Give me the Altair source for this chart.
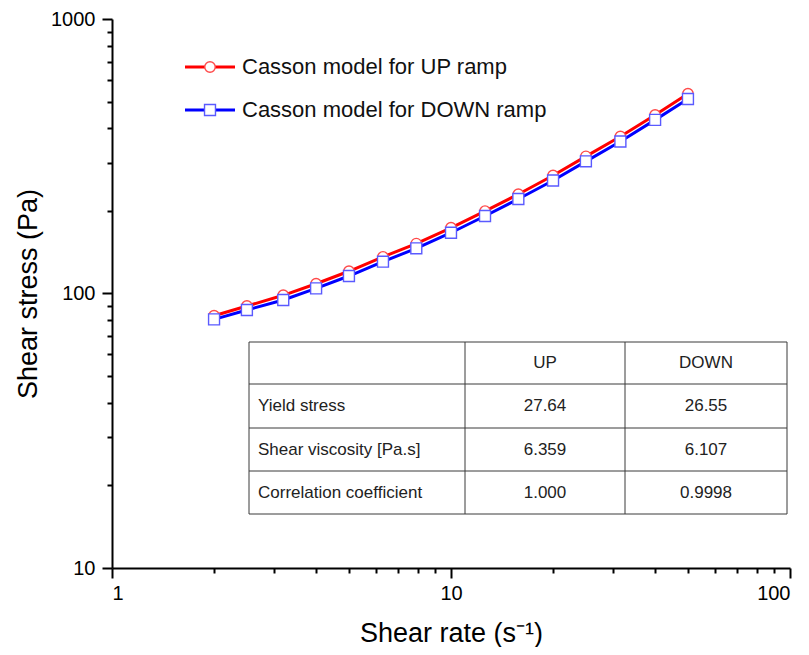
import altair as alt
import pandas as pd

# ---------------- data ----------------
shear_rate = [2, 2.5, 3.2, 4, 5, 6.3, 7.9, 10, 12.6, 15.8, 20, 25, 31.6, 40, 50]
up_stress = [83, 90, 98.5, 108.5, 120.5, 136, 152, 173.5, 199.5, 230, 269, 316, 373, 447, 534]
down_stress = [80.5, 87.1, 94.7, 104.4, 115.8, 130.6, 146.1, 166.5, 191.6, 221, 258, 303, 358, 429, 511]
series_names = ["Casson model for UP ramp", "Casson model for DOWN ramp"]

table_cols = ["UP", "DOWN"]
table_rows = ["Yield stress", "Shear viscosity [Pa.s]", "Correlation coefficient"]
table_up = ["27.64", "6.359", "1.000"]
table_down = ["26.55", "6.107", "0.9998"]

major_x = [1, 10, 100]
minor_x = [2, 3, 4, 5, 6, 7, 8, 9, 20, 30, 40, 50, 60, 70, 80, 90]
major_y = [10, 100, 1000]
minor_y = [20, 30, 40, 50, 60, 70, 80, 90, 200, 300, 400, 500, 600, 700, 800, 900]

# ---------------- layout ----------------
W, H = 678, 549
FONT = "Liberation Sans"
RED, BLUE = "#ff0000", "#0000ff"
RED_M, BLUE_M = "#ff4a4a", "#5a5aff"

df_up = pd.DataFrame({"rate": shear_rate, "stress": up_stress})
df_down = pd.DataFrame({"rate": shear_rate, "stress": down_stress})

xscale = alt.Scale(type="log", domain=[1, 100])
yscale = alt.Scale(type="log", domain=[10, 1000])

x_major_axis = alt.Axis(values=major_x, format="d", title="Shear rate (s⁻¹)", tickSize=10,
                        labelPadding=5, titlePadding=17, orient="bottom", grid=False)
y_major_axis = alt.Axis(values=major_y, format="d", title="Shear stress (Pa)", tickSize=10,
                        labelPadding=7, titlePadding=8, orient="left", grid=False)
x_minor_axis = alt.Axis(values=minor_x, labels=False, title=None, tickSize=5, domain=False,
                        orient="bottom", grid=False)
y_minor_axis = alt.Axis(values=minor_y, labels=False, title=None, tickSize=5, domain=False,
                        orient="left", grid=False)

up_line = alt.Chart(df_up).mark_line(color=RED, strokeWidth=3).encode(
    x=alt.X("rate:Q", scale=xscale, axis=x_major_axis),
    y=alt.Y("stress:Q", scale=yscale, axis=y_major_axis),
)
up_pts = alt.Chart(df_up).mark_point(shape="circle", filled=True, fill="white", fillOpacity=1,
                                     stroke=RED_M, strokeWidth=1.4, size=110, opacity=1).encode(
    x=alt.X("rate:Q", scale=xscale, axis=None),
    y=alt.Y("stress:Q", scale=yscale, axis=None),
)
down_line = alt.Chart(df_down).mark_line(color=BLUE, strokeWidth=3).encode(
    x=alt.X("rate:Q", scale=xscale, axis=x_minor_axis),
    y=alt.Y("stress:Q", scale=yscale, axis=y_minor_axis),
)
down_pts = alt.Chart(df_down).mark_point(shape="square", filled=True, fill="white", fillOpacity=1,
                                         stroke=BLUE_M, strokeWidth=1.4, size=120, opacity=1).encode(
    x=alt.X("rate:Q", scale=xscale, axis=None),
    y=alt.Y("stress:Q", scale=yscale, axis=None),
)

# ---------------- table inset ----------------
TX = [137, 353, 513, 675]
TY = [323, 365, 409, 452, 495]
hl = pd.DataFrame({"x": [TX[0]] * len(TY), "x2": [TX[-1]] * len(TY), "y": TY})
vl = pd.DataFrame({"x": TX, "y": [TY[0]] * len(TX), "y2": [TY[-1]] * len(TX)})
px = lambda f: alt.X(f, scale=None, axis=None)
py = lambda f: alt.Y(f, scale=None, axis=None)

t_h = alt.Chart(hl).mark_rule(color="#3a3a3a", strokeWidth=1).encode(
    x=px("x:Q"), x2="x2:Q", y=py("y:Q"))
t_v = alt.Chart(vl).mark_rule(color="#3a3a3a", strokeWidth=1).encode(
    x=px("x:Q"), y=py("y:Q"), y2="y2:Q")

row_mid = [(TY[i] + TY[i + 1]) / 2 for i in range(4)]
col_mid = [(TX[1] + TX[2]) / 2, (TX[2] + TX[3]) / 2]
lab_df = pd.DataFrame({"t": table_rows, "x": [TX[0] + 9] * 3, "y": row_mid[1:]})
val_df = pd.DataFrame({
    "t": table_cols + table_up + table_down,
    "x": col_mid + [col_mid[0]] * 3 + [col_mid[1]] * 3,
    "y": [row_mid[0]] * 2 + row_mid[1:] + row_mid[1:],
})
t_lab = alt.Chart(lab_df).mark_text(align="left", baseline="middle", font=FONT, fontSize=17,
                                    color="#222222").encode(x=px("x:Q"), y=py("y:Q"), text="t:N")
t_val = alt.Chart(val_df).mark_text(align="center", baseline="middle", font=FONT, fontSize=17,
                                    color="#222222").encode(x=px("x:Q"), y=py("y:Q"), text="t:N")

# ---------------- legend ----------------
LY = [48, 91]
leg_line = pd.DataFrame({"x": [73, 73], "x2": [123, 123], "y": LY, "c": [RED, BLUE]})
leg_txt = pd.DataFrame({"t": series_names, "x": [130, 130], "y": LY})
l_lines = alt.Chart(leg_line).mark_rule(strokeWidth=3).encode(
    x=px("x:Q"), x2="x2:Q", y=py("y:Q"), color=alt.Color("c:N", scale=None))
l_c = alt.Chart(pd.DataFrame({"x": [98], "y": [LY[0]]})).mark_point(
    shape="circle", filled=True, fill="white", fillOpacity=1, stroke=RED_M, strokeWidth=1.4,
    size=110, opacity=1).encode(x=px("x:Q"), y=py("y:Q"))
l_s = alt.Chart(pd.DataFrame({"x": [98], "y": [LY[1]]})).mark_point(
    shape="square", filled=True, fill="white", fillOpacity=1, stroke=BLUE_M, strokeWidth=1.4,
    size=120, opacity=1).encode(x=px("x:Q"), y=py("y:Q"))
l_t = alt.Chart(leg_txt).mark_text(align="left", baseline="middle", font=FONT, fontSize=22,
                                   color="#111111").encode(x=px("x:Q"), y=py("y:Q"), text="t:N")

chart = alt.layer(
    t_h, t_v, t_lab, t_val,
    up_line, up_pts, down_line, down_pts,
    l_lines, l_c, l_s, l_t,
).resolve_scale(x="shared", y="shared").resolve_axis(x="independent", y="independent").properties(
    width=W, height=H,
    autosize=alt.AutoSizeParams(type="none"),
    padding={"left": 104, "top": 11, "right": 11, "bottom": 79},
).configure_view(stroke=None).configure_axis(
    domainColor="black", domainWidth=2, tickColor="black", tickWidth=2,
    labelFont=FONT, labelFontSize=20, labelColor="black",
    titleFont=FONT, titleFontSize=27, titleFontWeight="normal", titleColor="black",
)

chart.save("out.html", embed_options={"renderer": "svg", "actions": False})
